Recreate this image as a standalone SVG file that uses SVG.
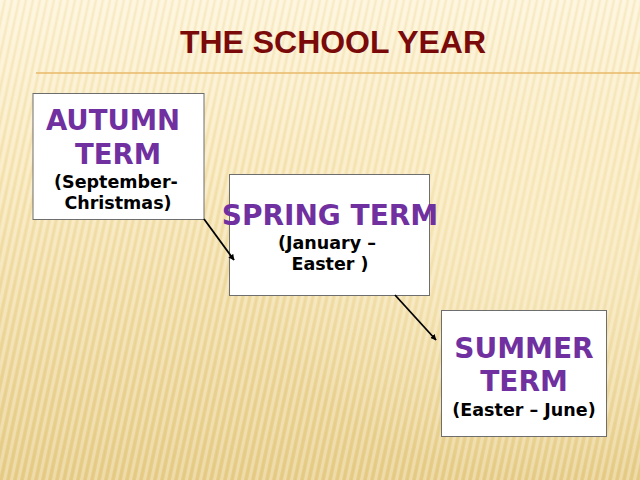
<svg xmlns="http://www.w3.org/2000/svg" width="640" height="480" viewBox="0 0 640 480">
  <defs>
    <linearGradient id="bg" x1="0" y1="0" x2="0" y2="1">
      <stop offset="0" stop-color="#FDF3D6"/>
      <stop offset="0.35" stop-color="#F8E7B8"/>
      <stop offset="1" stop-color="#E7CD88"/>
    </linearGradient>
    <radialGradient id="glow" cx="0.85" cy="0.55" r="0.45">
      <stop offset="0" stop-color="#FFF6DA" stop-opacity="0.45"/>
      <stop offset="1" stop-color="#FFF6DA" stop-opacity="0"/>
    </radialGradient>
    <pattern id="stripes" width="7" height="480" patternUnits="userSpaceOnUse" patternTransform="skewX(-12)">
      <rect x="0" y="0" width="3" height="480" fill="#FFFFFF" opacity="0.28"/>
      <rect x="4" y="0" width="2" height="480" fill="#C9A85A" opacity="0.10"/>
    </pattern>
    <marker id="arrow" viewBox="0 0 10 10" refX="9" refY="5" markerWidth="6" markerHeight="6" orient="auto" markerUnits="userSpaceOnUse">
      <path d="M0,0 L10,5 L0,10 z" fill="#000"/>
    </marker>
  </defs>
  <style>
    .box { fill: #FFFFFF; stroke: #6E6E6E; stroke-width: 1; }
    .head { font-family: "DejaVu Sans", sans-serif; font-weight: bold; fill: #7030A0; text-anchor: middle; }
    .sub { font-family: "DejaVu Sans", sans-serif; font-weight: bold; fill: #000000; text-anchor: middle; font-size: 17.5px; }
    .conn { stroke: #000000; stroke-width: 1.8; fill: none; }
  </style>

  <rect width="640" height="480" fill="url(#bg)"/>
  <rect width="640" height="480" fill="url(#stripes)"/>
  <rect width="640" height="480" fill="url(#glow)"/>

  <g id="title">
    <text x="333" y="53" font-family="'Liberation Sans', Arial, sans-serif" font-weight="bold" font-size="31" fill="#7A0A0A" text-anchor="middle" textLength="306" lengthAdjust="spacingAndGlyphs">THE SCHOOL YEAR</text>
    <line x1="36" y1="73" x2="640" y2="73" stroke="#E9B868" stroke-width="1.5"/>
  </g>

  <g id="autumn">
    <rect class="box" x="33" y="93.5" width="171" height="126"/>
    <text class="head" x="113" y="130" font-size="27.5">AUTUMN</text>
    <text class="head" x="118" y="164" font-size="27.5">TERM</text>
    <text class="sub" x="116" y="188">(September-</text>
    <text class="sub" x="118" y="209">Christmas)</text>
  </g>

  <g id="spring">
    <rect class="box" x="229.5" y="174.5" width="200" height="121"/>
    <text class="head" x="330" y="225" font-size="28">SPRING TERM</text>
    <text class="sub" x="327" y="249">(January –</text>
    <text class="sub" x="330" y="270">Easter )</text>
  </g>

  <g id="summer">
    <rect class="box" x="441.5" y="310.5" width="165" height="126"/>
    <text class="head" x="524" y="358" font-size="28">SUMMER</text>
    <text class="head" x="524" y="391" font-size="28">TERM</text>
    <text class="sub" x="524" y="416">(Easter – June)</text>
  </g>

  <g id="connectors">
    <line class="conn" x1="204" y1="219" x2="234" y2="260" marker-end="url(#arrow)"/>
    <line class="conn" x1="395" y1="295" x2="436" y2="340" marker-end="url(#arrow)"/>
  </g>
</svg>
